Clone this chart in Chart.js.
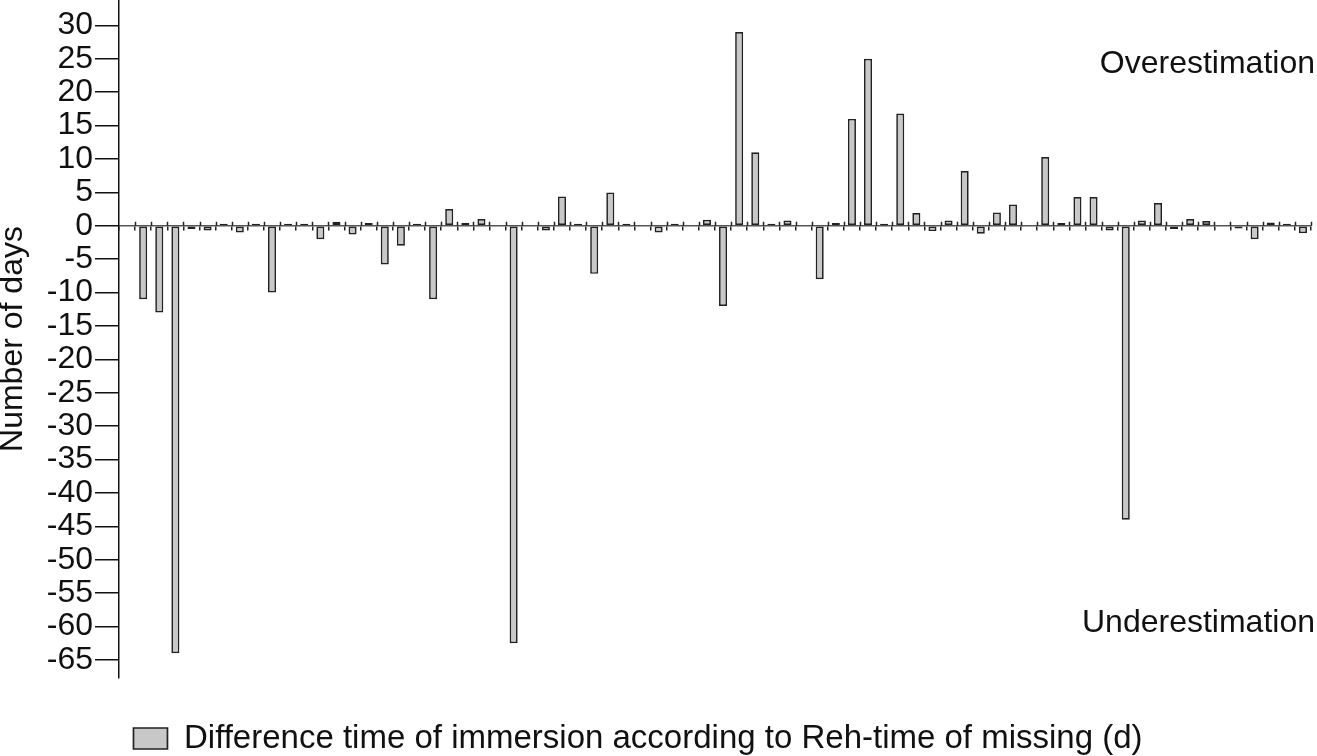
<!DOCTYPE html>
<html>
<head>
<meta charset="utf-8">
<script src="https://cdn.jsdelivr.net/npm/chart.js@4/dist/chart.umd.min.js"></script>
<style>
    html, body { margin: 0; padding: 0; background: #fff; overflow: hidden; }
    /* canvas shifted a little left so the centred legend sits where the original one is */
    #wrap { position: absolute; left: -35px; top: 0; width: 1352px; height: 756px; }
</style>
</head>
<body>
<div id="wrap"><canvas id="chart"></canvas></div>
<script>
// Difference (days) per case, left to right; null = no bar
const diffDays = [
    null, -11, -13, -64, -0.5, -0.7, 0.3, -1, 0.3, -10,
    0.3, 0.3, -2, 0.6, -1.3, 0.4, -5.8, -3, 0.3, -11,
    2.5, 0.4, 1, null, -62.5, null, -0.7, 4.4, 0.3, -7.2,
    5, 0.3, null, -1, 0.3, null, 0.9, -12, 29, 11,
    0.3, 0.8, null, -8, 0.4, 16, 25, 0.3, 16.8, 1.9,
    -0.8, 0.8, 8.2, -1.2, 2, 3.2, null, 10.3, 0.4, 4.3,
    4.3, -0.7, -44, 0.8, 3.4, -0.5, 1, 0.7, null, -0.4,
    -2, 0.5, 0.3, -1.1
];
const caseLabels = diffDays.map((_, i) => 'Case ' + (i + 1));
const yTickValues = [-65, -60, -55, -50, -45, -40, -35, -30, -25, -20, -15, -10, -5, 0, 5, 10, 15, 20, 25, 30];
const seriesName = 'Difference time of immersion according to Reh-time of missing (d)';
const noteTop = 'Overestimation';
const noteBottom = 'Underestimation';

const FONT = "'Liberation Sans', Arial, sans-serif";

// little tick marks poking up above the zero line, between the bars
const crossTicks = {
    id: 'crossTicks',
    afterDatasetsDraw(chart) {
        const xs = chart.scales.x;
        const ys = chart.scales.y;
        const ctx = chart.ctx;
        const y0 = ys.getPixelForValue(0);
        const n = xs.ticks.length;
        const step = xs.width / n;
        ctx.save();
        ctx.strokeStyle = '#222';
        ctx.lineWidth = 1.5;
        ctx.beginPath();
        for (let i = 1; i <= n; i++) {
            const x = Math.round(xs.left + i * step) + 0.5;
            ctx.moveTo(x, y0 - 4);
            ctx.lineTo(x, y0);
        }
        ctx.stroke();
        ctx.restore();
    }
};

// the two notes at the right side
const sideNotes = {
    id: 'sideNotes',
    afterDraw(chart) {
        const ctx = chart.ctx;
        ctx.save();
        ctx.font = '32px ' + FONT;
        ctx.fillStyle = '#111';
        ctx.textAlign = 'right';
        ctx.textBaseline = 'alphabetic';
        ctx.fillText(noteTop, chart.width - 2, 73);
        ctx.fillText(noteBottom, chart.width - 2, 632);
        ctx.restore();
    }
};

new Chart(document.getElementById('chart'), {
    type: 'bar',
    data: {
        labels: caseLabels,
        datasets: [
            {
                label: seriesName,
                data: diffDays,
                backgroundColor: '#c8c8c8',
                borderColor: '#222',
                borderWidth: 1.7,
                borderSkipped: false,
                categoryPercentage: 1,
                barPercentage: 0.5,
            },
        ],
    },
    options: {
        responsive: true,
        maintainAspectRatio: false,
        animation: false,
        layout: { padding: { top: 0, right: 6, bottom: 0, left: 0 } },
        plugins: {
            tooltip: { enabled: false },
            legend: {
                position: 'bottom',
                align: 'center',
                maxHeight: 78,
                labels: {
                    color: '#111',
                    font: { family: FONT, size: 33 },
                    boxWidth: 34,
                    boxHeight: 21,
                    padding: 44,
                },
            },
        },
        scales: {
            x: {
                position: { y: 0 },
                offset: true,
                ticks: { display: false },
                grid: {
                    offset: true,
                    drawOnChartArea: false,
                    drawTicks: true,
                    tickLength: 4,
                    color: '#222',
                    lineWidth: 1.5,
                },
                border: { display: true, color: '#555', width: 1.5 },
            },
            y: {
                min: -67.7,
                max: 33.8,
                afterBuildTicks: (scale) => {
                    scale.ticks = yTickValues.map((v) => ({ value: v }));
                },
                afterFit: (scale) => {
                    scale.width = 154;
                    scale.paddingTop = 0;
                    scale.paddingBottom = 0;
                },
                ticks: {
                    color: '#111',
                    font: { family: FONT, size: 32 },
                    padding: 2,
                    autoSkip: false,
                },
                grid: {
                    drawOnChartArea: false,
                    drawTicks: true,
                    tickLength: 24,
                    color: '#111',
                    lineWidth: 1.5,
                },
                border: { display: true, color: '#111', width: 1.5 },
                title: {
                    display: true,
                    text: 'Number of days',
                    color: '#111',
                    font: { family: FONT, size: 32, lineHeight: 0.85 },
                    padding: { top: 35, bottom: 0 },
                },
            },
        },
    },
    plugins: [crossTicks, sideNotes],
});
</script>
</body>
</html>
